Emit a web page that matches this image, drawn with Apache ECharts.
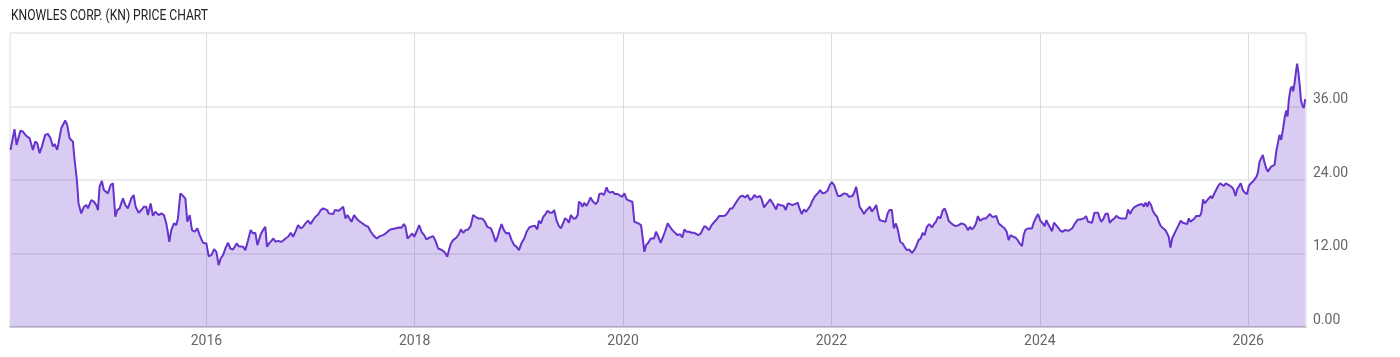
<!DOCTYPE html>
<html>
<head>
<meta charset="utf-8">
<script src="https://cdn.jsdelivr.net/npm/echarts@6/dist/echarts.min.js"></script>
<style>html,body{margin:0;padding:0;background:#fff;}#c{width:1400px;height:357px;}</style>
</head>
<body>
<div id="c"></div>
<script>
const chartTitle = 'KNOWLES CORP. (KN) PRICE CHART';
const yearTicks = [2016, 2018, 2020, 2022, 2024, 2026];
const priceTicks = [0, 12, 24, 36];

// dates as decimal years
const dates = [
2014.120,2014.133,2014.158,2014.178,2014.191,2014.216,2014.239,2014.271,2014.303,2014.319,
2014.335,2014.357,2014.377,2014.399,2014.421,2014.453,2014.479,2014.504,2014.527,2014.543,
2014.568,2014.591,2014.607,2014.623,2014.645,2014.664,2014.687,2014.719,2014.735,2014.757,
2014.773,2014.799,2014.825,2014.847,2014.863,2014.895,2014.920,2014.943,2014.959,2014.975,
2014.997,2015.016,2015.033,2015.055,2015.081,2015.103,2015.126,2015.145,2015.167,2015.199,
2015.222,2015.247,2015.279,2015.302,2015.321,2015.350,2015.375,2015.401,2015.423,2015.439,
2015.465,2015.487,2015.510,2015.529,2015.542,2015.567,2015.593,2015.615,2015.631,2015.644,
2015.663,2015.689,2015.711,2015.727,2015.750,2015.776,2015.798,2015.817,2015.840,2015.862,
2015.888,2015.913,2015.936,2015.968,2016.000,2016.022,2016.048,2016.074,2016.096,2016.118,
2016.137,2016.160,2016.182,2016.208,2016.230,2016.256,2016.272,2016.291,2016.310,2016.329,
2016.352,2016.374,2016.400,2016.425,2016.448,2016.470,2016.490,2016.506,2016.522,2016.544,
2016.566,2016.582,2016.602,2016.624,2016.643,2016.663,2016.688,2016.714,2016.736,2016.759,
2016.784,2016.810,2016.832,2016.855,2016.880,2016.906,2016.928,2016.951,2016.976,2017.002,
2017.024,2017.047,2017.073,2017.098,2017.121,2017.137,2017.159,2017.175,2017.194,2017.217,
2017.233,2017.249,2017.271,2017.290,2017.313,2017.335,2017.354,2017.370,2017.393,2017.418,
2017.440,2017.463,2017.489,2017.521,2017.553,2017.578,2017.610,2017.636,2017.665,2017.697,
2017.719,2017.745,2017.767,2017.786,2017.809,2017.825,2017.847,2017.873,2017.895,2017.911,
2017.931,2017.953,2017.976,2017.995,2018.017,2018.043,2018.065,2018.091,2018.113,2018.145,
2018.177,2018.203,2018.225,2018.251,2018.273,2018.296,2018.312,2018.328,2018.347,2018.369,
2018.401,2018.427,2018.443,2018.465,2018.488,2018.513,2018.536,2018.561,2018.584,2018.609,
2018.635,2018.657,2018.673,2018.696,2018.715,2018.731,2018.753,2018.776,2018.795,2018.814,
2018.833,2018.856,2018.878,2018.904,2018.930,2018.955,2018.978,2019.000,2019.026,2019.051,
2019.074,2019.099,2019.128,2019.154,2019.176,2019.192,2019.211,2019.234,2019.256,2019.275,
2019.298,2019.320,2019.339,2019.362,2019.384,2019.403,2019.426,2019.442,2019.464,2019.480,
2019.499,2019.522,2019.544,2019.564,2019.576,2019.596,2019.608,2019.628,2019.647,2019.666,
2019.688,2019.704,2019.720,2019.736,2019.756,2019.772,2019.794,2019.816,2019.842,2019.858,
2019.880,2019.900,2019.922,2019.948,2019.970,2019.993,2020.012,2020.034,2020.060,2020.089,
2020.108,2020.124,2020.146,2020.172,2020.185,2020.204,2020.220,2020.242,2020.265,2020.281,
2020.297,2020.316,2020.338,2020.361,2020.380,2020.402,2020.428,2020.450,2020.473,2020.498,
2020.524,2020.546,2020.569,2020.588,2020.610,2020.633,2020.658,2020.684,2020.703,2020.722,
2020.745,2020.761,2020.780,2020.802,2020.825,2020.850,2020.876,2020.898,2020.921,2020.940,
2020.963,2020.985,2021.004,2021.027,2021.049,2021.075,2021.100,2021.123,2021.145,2021.171,
2021.196,2021.219,2021.241,2021.260,2021.283,2021.299,2021.315,2021.331,2021.353,2021.369,
2021.388,2021.411,2021.433,2021.452,2021.469,2021.485,2021.507,2021.523,2021.542,2021.561,
2021.581,2021.603,2021.625,2021.651,2021.677,2021.693,2021.715,2021.737,2021.757,2021.773,
2021.795,2021.817,2021.843,2021.869,2021.891,2021.914,2021.939,2021.962,2021.984,2022.003,
2022.026,2022.045,2022.061,2022.083,2022.099,2022.122,2022.147,2022.170,2022.180,2022.202,
2022.222,2022.237,2022.254,2022.270,2022.292,2022.311,2022.331,2022.350,2022.369,2022.388,
2022.411,2022.430,2022.446,2022.462,2022.484,2022.503,2022.519,2022.539,2022.558,2022.580,
2022.599,2022.619,2022.638,2022.660,2022.683,2022.702,2022.724,2022.747,2022.772,2022.795,
2022.811,2022.836,2022.856,2022.875,2022.894,2022.916,2022.939,2022.965,2022.984,2023.003,
2023.022,2023.045,2023.067,2023.086,2023.105,2023.125,2023.150,2023.173,2023.195,2023.221,
2023.246,2023.269,2023.291,2023.310,2023.330,2023.349,2023.371,2023.387,2023.406,2023.426,
2023.445,2023.461,2023.483,2023.502,2023.522,2023.541,2023.563,2023.583,2023.605,2023.624,
2023.643,2023.663,2023.682,2023.701,2023.720,2023.743,2023.765,2023.788,2023.807,2023.829,
2023.845,2023.861,2023.884,2023.903,2023.925,2023.941,2023.964,2023.983,2024.005,2024.028,
2024.047,2024.063,2024.085,2024.101,2024.117,2024.136,2024.156,2024.181,2024.197,2024.219,
2024.239,2024.255,2024.277,2024.293,2024.309,2024.325,2024.348,2024.367,2024.389,2024.405,
2024.424,2024.444,2024.463,2024.482,2024.501,2024.524,2024.540,2024.559,2024.575,2024.591,
2024.613,2024.629,2024.652,2024.671,2024.693,2024.716,2024.735,2024.757,2024.780,2024.802,
2024.828,2024.847,2024.866,2024.885,2024.905,2024.924,2024.943,2024.962,2024.982,2024.998,
2025.014,2025.033,2025.046,2025.068,2025.084,2025.103,2025.126,2025.142,2025.161,2025.186,
2025.206,2025.225,2025.238,2025.254,2025.270,2025.289,2025.308,2025.327,2025.353,2025.372,
2025.391,2025.414,2025.430,2025.446,2025.462,2025.484,2025.500,2025.519,2025.535,2025.551,
2025.567,2025.583,2025.603,2025.622,2025.641,2025.654,2025.673,2025.692,2025.712,2025.731,
2025.750,2025.766,2025.785,2025.798,2025.814,2025.830,2025.846,2025.862,2025.878,2025.894,
2025.913,2025.929,2025.948,2025.968,2025.990,2026.006,2026.025,2026.045,2026.061,2026.080,
2026.093,2026.109,2026.125,2026.141,2026.157,2026.173,2026.189,2026.205,2026.221,2026.237,
2026.253,2026.272,2026.288,2026.301,2026.317,2026.333,2026.352,2026.365,2026.378,2026.390,
2026.406,2026.419,2026.432,2026.445,2026.461,2026.470,2026.483,2026.496,2026.506,2026.518,
2026.534,2026.547
];

const prices = [
28.91,29.18,32.29,29.73,30.55,32.07,31.91,31.20,30.82,31.09,
28.91,30.27,30.00,28.37,29.46,31.37,31.53,30.82,29.46,29.89,
28.91,30.98,32.46,32.18,33.71,33.00,30.82,30.27,27.27,24.00,
20.18,18.55,19.64,19.91,19.36,20.73,20.46,19.91,19.09,22.91,
23.84,22.36,22.64,21.82,23.18,23.46,18.00,19.09,19.36,21.00,
19.91,19.36,21.00,21.55,19.64,18.66,19.09,19.64,19.64,18.27,
20.18,18.16,18.82,18.93,18.27,18.55,18.27,16.91,15.38,13.91,
15.82,16.91,16.64,17.73,21.82,21.38,21.00,17.18,18.27,15.82,
15.55,16.09,15.00,13.75,13.64,11.56,11.73,12.71,12.27,10.09,
11.18,11.73,12.82,13.75,12.82,12.65,12.55,13.64,13.20,13.36,
13.09,12.55,14.18,15.82,15.27,15.38,13.36,13.09,15.16,15.82,
16.36,13.09,13.64,14.07,14.45,13.91,14.07,13.91,14.07,14.45,
14.73,15.38,14.73,15.55,16.64,16.09,16.36,16.91,17.35,16.80,
17.46,18.00,18.38,19.09,19.36,19.64,19.09,18.55,18.66,18.44,
19.09,18.82,18.98,19.20,19.64,17.73,18.27,18.55,17.18,18.27,
17.73,17.35,17.02,16.64,16.36,15.55,14.84,14.45,14.84,15.00,
15.27,15.65,15.93,15.65,16.09,15.82,16.25,16.20,16.80,16.36,
14.45,14.84,15.27,14.73,15.55,16.64,15.55,15.00,14.29,14.62,
14.84,13.91,12.82,12.65,12.44,12.00,11.45,12.55,13.64,14.18,
14.62,15.27,15.93,15.38,15.82,15.93,16.47,18.27,18.00,17.73,
17.73,17.56,17.18,16.36,16.64,16.09,15.16,13.91,14.73,15.82,
16.80,15.82,15.27,15.38,14.18,13.36,13.09,12.55,13.75,14.45,
15.55,16.25,16.47,16.53,15.93,17.35,16.91,18.00,18.44,18.98,
18.66,18.66,19.09,17.35,16.47,16.09,17.02,17.73,17.46,17.02,
18.27,17.73,17.73,18.27,20.46,20.18,19.64,20.29,19.75,20.29,
21.16,20.62,20.84,20.07,20.46,21.71,21.82,21.55,22.80,22.09,
21.93,22.09,21.71,21.71,21.44,21.27,21.82,20.84,20.62,20.46,
17.18,17.46,16.91,16.64,15.00,12.27,13.36,13.75,14.45,14.73,
14.45,15.55,14.73,13.75,14.07,15.55,16.91,16.36,15.82,15.38,
15.00,15.16,14.62,15.93,15.55,15.55,15.38,15.38,15.55,15.00,
15.27,15.16,16.47,16.25,15.82,16.64,17.18,17.56,18.11,18.00,
18.11,18.27,18.66,19.36,19.36,20.07,20.73,21.27,21.44,21.16,
21.55,20.73,21.00,21.55,21.16,20.84,21.38,20.84,19.53,19.91,
20.29,20.84,20.29,20.07,19.20,20.07,19.91,20.07,19.75,19.09,
20.18,20.07,19.91,20.07,20.29,19.36,18.44,19.20,18.82,18.55,
19.75,20.62,21.38,21.82,22.36,21.82,21.93,22.26,23.18,23.67,
23.18,22.91,21.38,21.38,21.27,21.82,21.71,21.27,21.16,21.38,
22.09,22.91,21.27,19.64,19.09,18.44,18.98,18.82,19.64,18.82,
19.36,19.91,18.55,17.46,17.35,17.46,17.18,18.55,19.09,19.09,
16.09,16.91,15.82,13.91,13.64,13.09,12.55,12.65,12.11,12.55,
13.09,14.18,14.45,15.38,15.00,16.36,16.80,16.25,16.80,17.18,
18.00,17.73,18.98,19.36,18.55,17.35,16.91,16.64,16.47,16.64,
16.91,16.80,16.47,15.82,16.36,15.93,16.36,16.91,18.11,17.35,
17.56,17.73,17.73,18.00,18.44,18.00,18.00,18.11,16.91,16.64,
16.36,16.09,15.55,14.18,15.00,14.73,14.62,14.18,13.64,13.20,
15.00,15.82,16.09,16.09,16.09,17.02,17.89,18.44,17.35,16.91,
16.47,17.46,16.64,16.91,15.65,17.02,16.64,16.09,15.71,15.55,
15.82,16.09,15.71,15.55,16.09,15.93,17.18,17.56,17.56,17.46,
17.73,18.11,17.18,16.91,17.02,18.66,18.44,18.66,17.73,17.18,
17.73,18.44,18.55,17.02,17.46,17.73,18.16,17.84,17.73,17.73,
17.73,19.20,18.44,19.09,19.53,19.75,19.91,19.64,20.07,19.64,
20.29,19.64,20.46,19.91,18.98,18.44,18.00,17.18,16.47,16.09,
15.82,15.55,14.73,12.98,14.45,14.18,15.82,16.47,17.35,17.02,
16.91,16.80,17.73,17.18,17.46,17.73,18.11,17.89,18.11,18.66,
20.84,20.18,20.62,20.62,21.38,21.00,21.71,22.36,23.02,23.46,
23.18,23.02,23.46,23.73,23.18,23.35,22.80,22.36,21.38,22.47,
23.02,23.46,22.36,21.93,21.71,23.02,23.46,23.73,24.11,24.55,
25.20,27.00,27.16,28.09,26.84,25.91,25.36,25.09,26.18,25.91,
26.46,28.91,30.27,31.37,30.55,32.18,34.37,35.35,34.37,37.09,
38.84,39.28,38.46,39.82,42.00,42.98,41.46,39.28,37.09,36.27,
35.73,37.20
];

const seriesData = dates.map((d, i) => [d, prices[i]]);
const chart = echarts.init(document.getElementById('c'), null, {renderer: 'canvas'});
const FONT = 'Roboto, "Noto Sans", sans-serif';

chart.setOption({
  animation: false,
  backgroundColor: '#ffffff',
  graphic: [{
    type: 'text',
    x: 11, y: 9,
    scaleX: 0.865,
    style: {
      text: chartTitle,
      fontSize: 14, fontFamily: FONT, fill: '#222',
      verticalAlign: 'top', align: 'left'
    }
  }],
  grid: {
    left: 10, right: 94, top: 33, bottom: 30,
    show: true, borderColor: '#dcdcdc', borderWidth: 1, backgroundColor: 'transparent'
  },
  xAxis: {
    type: 'value',
    min: 2014.115, max: 2026.555,
    axisLine: {show: true, lineStyle: {color: '#cccccc', width: 2}},
    axisTick: {show: false, customValues: yearTicks},
    axisLabel: {
      customValues: yearTicks,
      formatter: v => String(Math.round(v)),
      color: '#666', fontSize: 14, fontFamily: FONT, margin: 7
    },
    splitLine: {show: true, lineStyle: {color: '#dddddd', width: 1}}
  },
  yAxis: {
    type: 'value',
    position: 'right',
    min: 0, max: 48, interval: 12,
    axisLine: {show: false},
    axisTick: {show: false},
    axisLabel: {
      formatter: v => priceTicks.includes(v) ? v.toFixed(2) : '',
      color: '#666', fontSize: 14, fontFamily: FONT, margin: 7,
      verticalAlign: 'bottom'
    },
    splitLine: {show: true, lineStyle: {color: '#ebebeb', width: 2}}
  },
  series: [{
    type: 'line',
    data: seriesData,
    showSymbol: false,
    smooth: false,
    lineStyle: {color: '#6633cc', width: 2},
    itemStyle: {color: '#6633cc'},
    areaStyle: {color: 'rgba(102,51,204,0.25)', opacity: 1}
  }]
});
</script>
</body>
</html>
